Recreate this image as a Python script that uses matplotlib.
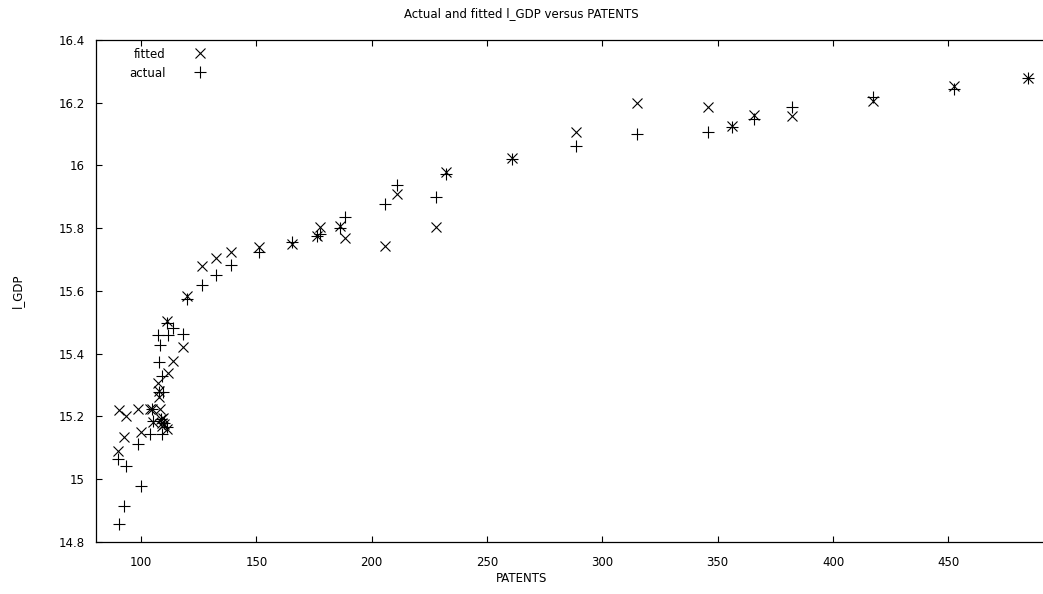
import matplotlib
matplotlib.use("Agg")
import matplotlib.pyplot as plt

# %%

patents = [
    90.2, 90.6, 92.8, 93.5, 98.6, 100.0, 103.9, 104.6, 105.3,
    107.2, 107.8, 108.0, 108.2, 108.5, 109.0, 109.0, 109.7, 110.0,
    111.4, 111.5, 111.4, 114.0, 118.0,
    119.8, 126.6, 132.4, 139.0, 151.2, 165.4, 176.5, 177.5, 186.3, 188.5,
    205.9, 210.8, 228.0, 232.2, 261.0, 288.7, 314.9, 345.6, 356.1, 365.9,
    382.0, 417.3, 452.6, 484.7,
]
actual = [
    15.063, 14.858, 14.914, 15.040, 15.111, 14.977, 15.145, 15.223, 15.185,
    15.458, 15.374, 15.278, 15.428, 15.192, 15.330, 15.143, 15.278, 15.180,
    15.497, 15.458, 15.165, 15.480, 15.462,
    15.573, 15.618, 15.649, 15.682, 15.725, 15.757, 15.775, 15.780, 15.800, 15.836,
    15.876, 15.938, 15.898, 15.972, 16.022, 16.062, 16.099, 16.107, 16.122, 16.148,
    16.185, 16.219, 16.245, 16.280,
]
fitted = [
    15.089, 15.220, 15.133, 15.200, 15.222, 15.151, 15.222, 15.222, 15.183,
    15.305, 15.263, 15.280, 15.222, 15.190, 15.180, 15.170, 15.195, 15.175,
    15.503, 15.338, 15.158, 15.376, 15.422,
    15.583, 15.679, 15.704, 15.723, 15.739, 15.748, 15.776, 15.805, 15.808, 15.767,
    15.742, 15.909, 15.803, 15.978, 16.025, 16.106, 16.200, 16.185, 16.125, 16.161,
    16.158, 16.205, 16.253, 16.280,
]

xticks = [100, 150, 200, 250, 300, 350, 400, 450]
yticks = [14.8, 15.0, 15.2, 15.4, 15.6, 15.8, 16.0, 16.2, 16.4]
ytick_labels = ["14.8", "15", "15.2", "15.4", "15.6", "15.8", "16", "16.2", "16.4"]

# %%

plt.rcParams["font.family"] = "DejaVu Sans"
plt.rcParams["font.size"] = 8.5

fig = plt.figure(figsize=(10.43, 5.94), dpi=100)
ax = fig.add_axes([96 / 1043, 1 - 541.7 / 594, 1 - 96 / 1043, (541.7 - 40) / 594])

ax.plot(patents, fitted, linestyle="none", marker="x", markersize=7.5,
        markeredgewidth=0.8, color="black", label="fitted")
ax.plot(patents, actual, linestyle="none", marker="+", markersize=9,
        markeredgewidth=0.8, color="black", label="actual")

ax.set_xlim(80.5, 491)
ax.set_ylim(14.8, 16.4)
ax.set_xticks(xticks)
ax.set_yticks(yticks)
ax.set_yticklabels(ytick_labels)
ax.tick_params(direction="in", length=4, width=0.8, top=True, right=False,
               labelsize=8.5, color="black")
ax.tick_params(axis="x", pad=10)
ax.tick_params(axis="y", pad=8)
ax.spines["right"].set_visible(False)
for s in ["left", "bottom", "top"]:
    ax.spines[s].set_linewidth(0.9)

# markerfirst=False right-aligns the rows, so labels end flush before the markers
ax.legend(loc="upper right", bbox_to_anchor=(0.130, 1.006), frameon=False,
          markerfirst=False, handlelength=1.5, handletextpad=2.1,
          labelspacing=0.5, borderpad=0.4, fontsize=8.5)

fig.text(0.5, 1 - 14 / 594, "Actual and fitted l_GDP versus PATENTS",
         ha="center", va="center", fontsize=8.5)
fig.text(0.5, 1 - 578 / 594, "PATENTS", ha="center", va="center", fontsize=8.5)
fig.text(17 / 1043, 1 - 291 / 594, "l_GDP", ha="center", va="center",
         rotation=90, fontsize=8.5)

fig.savefig("out.png", dpi=100)
